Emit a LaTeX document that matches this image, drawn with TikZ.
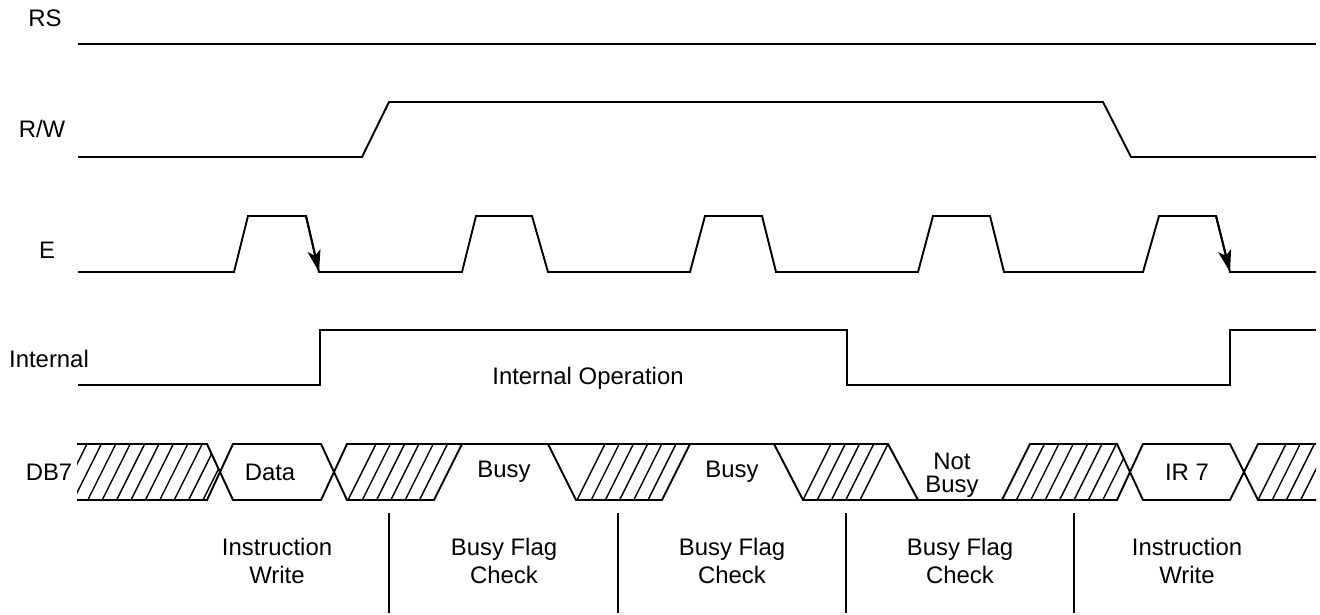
\documentclass[tikz,border=0pt]{standalone}
\usepackage{fontspec}
\setmainfont{Liberation Sans}
\usetikzlibrary{arrows.meta}

\begin{document}
\begin{tikzpicture}[%
x=0.02cm, y=-0.02cm,
sig/.style={line width=1.1pt, line join=miter},
hatchline/.style={line width=0.8pt},
edgetip/.style={-{Stealth[length=12.5pt, width=7.5pt, inset=3pt]}},
lbl/.style={font=\fontsize{13.6}{16}\selectfont, inner sep=0pt},
twoline/.style={lbl, align=center},
]
\useasboundingbox (0,0) rectangle (1320,615);
%% signal names;
\node[lbl] (rs) at (45,18) {RS};
\node[lbl] (rw) at (42,129) {R/W};
\node[lbl] (e) at (47,250) {E};
\node[lbl] (internal) at (49,359) {Internal};
\node[lbl] (dbseven) at (49,472) {DB7};
%% RS;
\draw[sig] (78,44) -- (1316,44);
%% R/W;
\draw[sig] (78,157) -- (362,157) -- (389,102) -- (1103,102) -- (1131,157) -- (1316,157);
%% E;
\draw[sig] (78,272) -- (234,272) -- (248,216) -- (306,216) -- (319,272)
  -- (462,272) -- (476,216) -- (532,216) -- (548,272)
  -- (690,272) -- (705,216) -- (762,216) -- (776,272)
  -- (918,272) -- (933,216) -- (990,216) -- (1004,272)
  -- (1143,272) -- (1159,216) -- (1216,216) -- (1230,272) -- (1316,272);
\draw[sig, edgetip] (306,216) -- (319,272);
\draw[sig, edgetip] (1216,216) -- (1230,272);
%% internal;
\draw[sig] (78,385) -- (320,385) -- (320,330) -- (847,330) -- (847,385)
  -- (1230,385) -- (1230,330) -- (1316,330);
\node[lbl] (operation) at (588,378) {Internal Operation};
%% DB7 outline;
\draw[sig] (77,444) -- (207,444) -- (233,500) -- (321,500) -- (347,444) -- (888,444) -- (918,500);
\draw[sig] (77,500) -- (207,500) -- (233,444) -- (321,444) -- (347,500) -- (434,500) -- (462,444);
\draw[sig] (548,444) -- (576,500) -- (662,500) -- (690,444);
\draw[sig] (774,444) -- (803,500) -- (1117,500) -- (1143,444) -- (1230,444) -- (1258,500) -- (1316,500);
\draw[sig] (1002,500) -- (1030,444) -- (1117,444) -- (1143,500) -- (1230,500) -- (1258,444) -- (1316,444);
%% DB7 hatching;
\begin{scope}
\clip (77,444) -- (207,444) -- (220,472) -- (207,500) -- (77,500) -- cycle;
\foreach \i in {0,...,10}
  \draw[hatchline] (59+14.4*\i,500) -- (87+14.4*\i,444);
\end{scope}
\foreach \i in {0,...,5}
  \draw[hatchline] (348+14.3*\i,500) -- (376+14.3*\i,444);
\foreach \i in {0,...,5}
  \draw[hatchline] (577+14.2*\i,500) -- (605+14.2*\i,444);
\foreach \i in {0,...,4}
  \draw[hatchline] (803+14.25*\i,500) -- (831+14.25*\i,444);
\begin{scope}
\clip (1002,500) -- (1030,444) -- (1117,444) -- (1130,472) -- (1117,500) -- cycle;
\foreach \i in {1,...,7}
  \draw[hatchline] (1002+14.4*\i,500) -- (1030+14.4*\i,444);
\end{scope}
\begin{scope}
\clip (1258,444) -- (1244,472) -- (1258,500) -- (1316,500) -- (1316,444) -- cycle;
\foreach \i in {0,...,3}
  \draw[hatchline] (1258+14.2*\i,500) -- (1286+14.2*\i,444);
\end{scope}
%% DB7 values;
\node[lbl] (data) at (270,472) {Data};
\node[lbl] (busya) at (504,472) {Busy};
\node[lbl] (busyb) at (732,472) {Busy};
\node[twoline] (notbusy) at (952,475) {Not\\[-3pt]Busy};
\node[lbl] (irseven) at (1187,472) {IR 7};
%% phases;
\foreach \x in {389,618,846,1074}
  \draw[sig] (\x,513) -- (\x,613);
\node[twoline] (writea) at (277,561) {Instruction\\Write};
\node[twoline] (checka) at (504,561) {Busy Flag\\Check};
\node[twoline] (checkb) at (732,561) {Busy Flag\\Check};
\node[twoline] (checkc) at (960,561) {Busy Flag\\Check};
\node[twoline] (writeb) at (1187,561) {Instruction\\Write};
\end{tikzpicture}
\end{document}
